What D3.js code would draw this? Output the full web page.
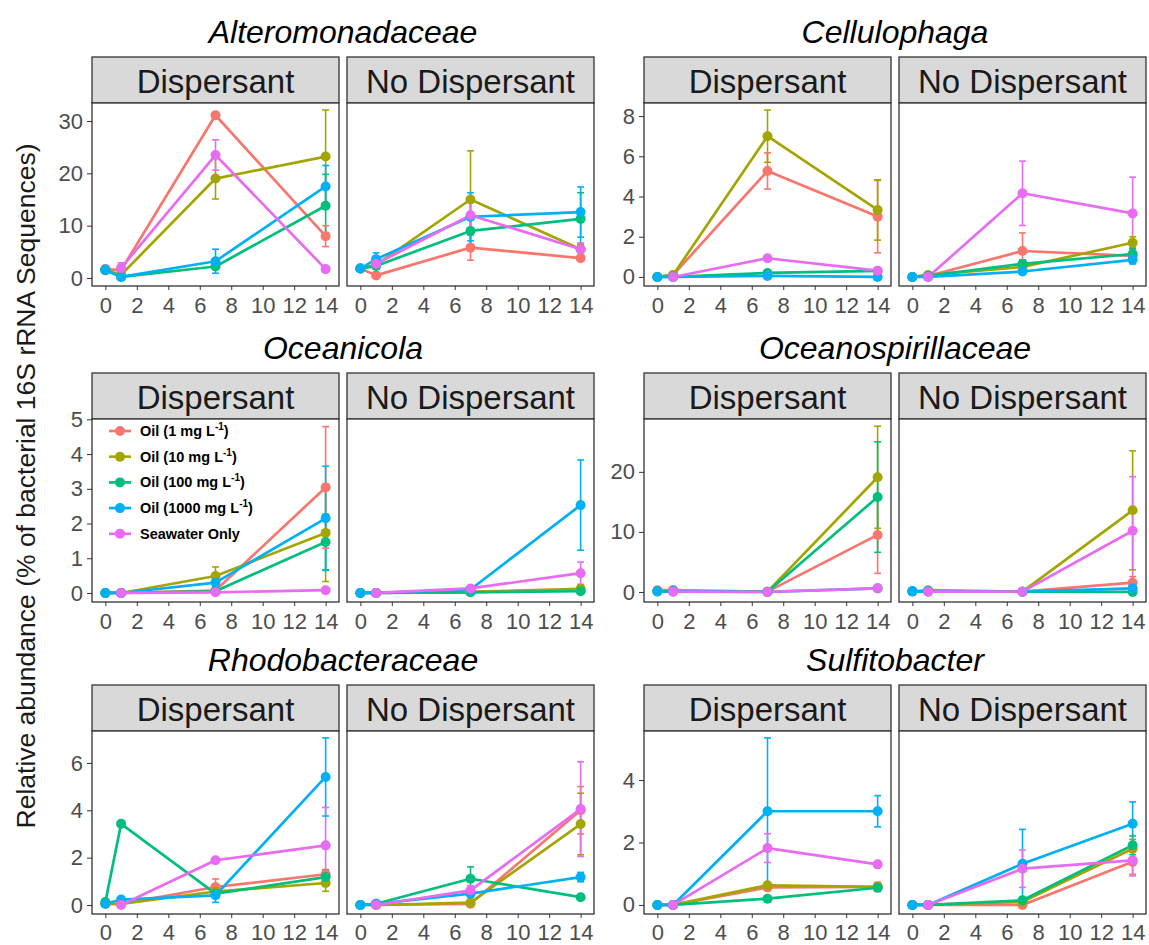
<!DOCTYPE html>
<html>
<head>
<meta charset="utf-8">
<script src="https://cdn.jsdelivr.net/npm/d3@7"></script>
<style>
  body { margin: 0; background: #fff; }
  svg { font-family: "Liberation Sans", Arial, sans-serif; }
  .axis text { font-size: 22px; fill: #4d4d4d; }
  .axis line { stroke: #333; stroke-width: 1; }
  .axis .domain { display: none; }
  .strip-text { font-size: 33px; fill: #1a1a1a; }
  .family-title { font-size: 32px; font-style: italic; fill: #000; }
  .y-title { font-size: 26.5px; fill: #1a1a1a; }
  .legend-text { font-size: 14.5px; font-weight: bold; fill: #000; }
</style>
</head>
<body>
<div id="chart"></div>
<script>
// ---- data ----
const days = [0, 1, 7, 14];
const treatments = ['Oil (1 mg L-1)', 'Oil (10 mg L-1)', 'Oil (100 mg L-1)', 'Oil (1000 mg L-1)', 'Seawater Only'];
const colours = ['#F8766D', '#A3A500', '#00BF7D', '#00B0F6', '#E76BF3'];
const facets = ['Dispersant', 'No Dispersant'];
const families = ['Alteromonadaceae', 'Cellulophaga', 'Oceanicola', 'Oceanospirillaceae', 'Rhodobacteraceae', 'Sulfitobacter'];
const xTicks = [0, 2, 4, 6, 8, 10, 12, 14];
const xLimits = [-0.85, 14.85];
const yTicks = [[0, 10, 20, 30], [0, 2, 4, 6, 8], [0, 1, 2, 3, 4, 5], [0, 10, 20], [0, 2, 4, 6], [0, 2, 4]];
const yLimits = [[-1.53, 33.44], [-0.45, 8.65], [-0.26, 5.01], [-1.67, 28.8], [-0.38, 7.35], [-0.29, 5.57]];

// means / standard errors: [facet][treatment][day]
const alteroMean = [
  [[1.7, 1.5, 31.1, 8.0], [1.5, 0.6, 19.0, 23.2], [1.5, 0.2, 2.2, 13.8], [1.6, 0.2, 3.2, 17.5], [null, 1.9, 23.5, 1.7]],
  [[1.8, 0.5, 5.8, 3.8], [1.8, 2.5, 15.0, 5.5], [1.8, 2.3, 9.0, 11.3], [1.8, 3.6, 11.7, 12.6], [null, 2.7, 12.0, 5.5]]
];
const alteroErr = [
  [[0.3, 0.5, 0.4, 2.0], [0.3, 0.2, 3.9, 8.9], [0.3, 0.1, 0.5, 6.0], [0.3, 0.1, 2.3, 4.0], [null, 1.0, 2.9, 0.2]],
  [[0.2, 0.2, 2.4, 0.5], [0.2, 0.5, 9.3, 1.0], [0.2, 0.5, 3.5, 5.0], [0.2, 1.2, 4.6, 4.8], [null, 0.5, 2.5, 1.2]]
];
const celluMean = [
  [[0, 0.1, 5.27, 3.0], [0, 0.1, 7.0, 3.33], [0, 0, 0.2, 0.3], [0, 0, 0.05, 0], [null, 0, 0.93, 0.31]],
  [[0, 0.05, 1.29, 1.05], [0, 0.1, 0.5, 1.7], [0, 0.05, 0.65, 1.14], [0, 0, 0.27, 0.85], [null, 0, 4.16, 3.16]]
];
const celluErr = [
  [[0, 0, 0.9, 1.8], [0, 0, 1.3, 1.5], [0, 0, 0.1, 0.1], [0, 0, 0.05, 0.05], [null, 0, 0.1, 0.15]],
  [[0, 0, 0.9, 0.2], [0, 0, 0.2, 0.3], [0, 0, 0.2, 0.3], [0, 0, 0.1, 0.2], [null, 0, 1.6, 1.8]]
];
const oceanicolaMean = [
  [[0, 0, 0.07, 3.04], [0, 0, 0.49, 1.73], [0, 0, 0.05, 1.47], [0, 0, 0.3, 2.15], [null, 0, 0.02, 0.08]],
  [[0, 0, 0.03, 0.08], [0, 0, 0.03, 0.12], [0, 0, 0.02, 0.05], [0, 0, 0.1, 2.53], [null, 0, 0.13, 0.57]]
];
const oceanicolaErr = [
  [[0, 0, 0.05, 1.75], [0, 0, 0.26, 1.4], [0, 0, 0.03, 0.8], [0, 0, 0.12, 1.5], [null, 0, 0.02, 0.03]],
  [[0, 0, 0.02, 0.05], [0, 0, 0.02, 0.08], [0, 0, 0.02, 0.04], [0, 0, 0.05, 1.3], [null, 0, 0.05, 0.32]]
];
const oceanospMean = [
  [[0.3, 0.33, 0.05, 9.5], [0.1, 0.1, 0.05, 19.1], [0.1, 0.1, 0.05, 15.8], [0.1, 0.1, 0, 0.6], [null, 0.05, 0, 0.6]],
  [[0.1, 0.1, 0.05, 1.55], [0.1, 0.3, 0.05, 13.6], [0.1, 0.1, 0.05, 0], [0.1, 0.1, 0.05, 0.6], [null, 0.05, 0.05, 10.2]]
];
const oceanospErr = [
  [[0.1, 0.1, 0.05, 6.4], [0, 0, 0, 8.5], [0, 0, 0, 9.2], [0, 0, 0, 0.3], [null, 0, 0, 0.3]],
  [[0, 0, 0, 1.0], [0, 0.1, 0, 9.9], [0, 0, 0, 0.2], [0, 0, 0, 0.3], [null, 0, 0, 9.0]]
];
const rhodoMean = [
  [[0.05, 0.05, 0.76, 1.3], [0.05, 0.05, 0.57, 0.93], [0.13, 3.43, 0.48, 1.18], [0.05, 0.23, 0.41, 5.41], [null, 0, 1.89, 2.52]],
  [[0, 0, 0.05, 4.0], [0, 0, 0.1, 3.42], [0, 0.05, 1.11, 0.33], [0, 0.05, 0.48, 1.18], [null, 0, 0.62, 4.05]]
];
const rhodoErr = [
  [[0, 0, 0.34, 0.2], [0, 0, 0.1, 0.35], [0.05, 0.1, 0.1, 0.3], [0, 0.05, 0.3, 1.65], [null, 0, 0.1, 1.6]],
  [[0, 0, 0.05, 1.0], [0, 0, 0.05, 1.3], [0, 0, 0.5, 0.1], [0, 0, 0.15, 0.2], [null, 0, 0.2, 2.0]]
];
const sulfiMean = [
  [[0, 0, 0.56, 0.58], [0, 0, 0.63, 0.58], [0, 0, 0.2, 0.55], [0, 0, 3.0, 3.0], [null, 0, 1.82, 1.3]],
  [[0, 0, 0, 1.38], [0, 0, 0.1, 1.8], [0, 0, 0.15, 1.91], [0, 0, 1.32, 2.6], [null, 0, 1.16, 1.43]]
];
const sulfiErr = [
  [[0, 0, 0.05, 0.15], [0, 0, 0.05, 0.1], [0, 0, 0.05, 0.1], [0, 0, 2.35, 0.5], [null, 0, 0.46, 0.05]],
  [[0, 0, 0.02, 0.4], [0, 0, 0.05, 0.3], [0, 0, 0.1, 0.3], [0, 0, 1.1, 0.7], [null, 0, 0.6, 0.5]]
];
const familyMeans = [alteroMean, celluMean, oceanicolaMean, oceanospMean, rhodoMean, sulfiMean];
const familyErrs = [alteroErr, celluErr, oceanicolaErr, oceanospErr, rhodoErr, sulfiErr];

// ---- layout ----
const width = 1149, height = 945;
const colLeft = [92, 644];
const rowTop = [57, 373, 685];

const svg = d3.select('#chart').append('svg')
    .attr('width', width)
    .attr('height', height);

class FacetPair {

  constructor(_config, _data) {
    this.config = {
      parent: _config.parent,
      left: _config.left,
      top: _config.top,
      tickPadding: _config.tickPadding || 7,
      panelWidth: 247,
      panelHeight: 183,
      stripHeight: 46,
      gap: 8
    };
    this.data = _data;
    this.initVis();
  }

  initVis() {
    let vis = this;
    const c = vis.config;

    vis.xScale = d3.scaleLinear().domain(xLimits).range([0, c.panelWidth]);
    vis.yScale = d3.scaleLinear().domain(vis.data.limits).range([c.panelHeight, 0]);

    vis.g = c.parent.append('g')
        .attr('transform', `translate(${c.left},${c.top})`);

    vis.g.append('text')
        .attr('class', 'family-title')
        .attr('x', c.panelWidth + c.gap / 2)
        .attr('y', -14)
        .attr('text-anchor', 'middle')
        .text(vis.data.title);

    vis.panels = facets.map((facet, fi) => {
      const p = vis.g.append('g')
          .attr('transform', `translate(${fi * (c.panelWidth + c.gap)},0)`);

      // strip
      p.append('rect')
          .attr('width', c.panelWidth)
          .attr('height', c.stripHeight)
          .attr('fill', '#d9d9d9')
          .attr('stroke', '#333')
          .attr('stroke-width', 1.3);
      p.append('text')
          .attr('class', 'strip-text')
          .attr('x', c.panelWidth / 2)
          .attr('y', 36)
          .attr('text-anchor', 'middle')
          .text(facet);

      const body = p.append('g')
          .attr('transform', `translate(0,${c.stripHeight})`);

      body.append('rect')
          .attr('width', c.panelWidth)
          .attr('height', c.panelHeight)
          .attr('fill', '#fff');

      body.append('g')
          .attr('class', 'axis x-axis')
          .attr('transform', `translate(0,${c.panelHeight})`)
          .call(d3.axisBottom(vis.xScale).tickValues(xTicks).tickSize(4).tickPadding(c.tickPadding));

      if (fi === 0) {
        body.append('g')
            .attr('class', 'axis y-axis')
            .call(d3.axisLeft(vis.yScale)
                .tickValues(vis.data.ticks)
                .tickFormat(d3.format('d'))
                .tickSize(5)
                .tickPadding(4));
      }

      return body;
    });

    vis.renderVis();
  }

  renderVis() {
    let vis = this;
    const c = vis.config;

    vis.panels.forEach((body, fi) => {
      const means = vis.data.means[fi];
      const errs = vis.data.errs[fi];
      const series = treatments.map((t, ti) => days.map((d, di) => ({
        day: d,
        value: means[ti][di],
        err: errs[ti][di],
        colour: colours[ti]
      })));

      const line = d3.line()
          .defined(d => d.value !== null)
          .x(d => vis.xScale(d.day))
          .y(d => vis.yScale(d.value));

      const marks = body.append('g');

      marks.selectAll('.series-line')
          .data(series)
          .join('path')
          .attr('class', 'series-line')
          .attr('d', line)
          .attr('fill', 'none')
          .attr('stroke', (d, i) => colours[i])
          .attr('stroke-width', 2.7)
          .attr('stroke-linejoin', 'round');

      const pts = series.flat().filter(d => d.value !== null);
      const withErr = pts.filter(d => d.err > 0);
      const capHalf = 0.22;

      marks.selectAll('.err-v')
          .data(withErr)
          .join('line')
          .attr('class', 'err-v')
          .attr('x1', d => vis.xScale(d.day))
          .attr('x2', d => vis.xScale(d.day))
          .attr('y1', d => vis.yScale(d.value - d.err))
          .attr('y2', d => vis.yScale(d.value + d.err))
          .attr('stroke', d => d.colour)
          .attr('stroke-width', 1.6);

      [-1, 1].forEach(sign => {
        marks.selectAll(`.err-cap${sign}`)
            .data(withErr)
            .join('line')
            .attr('class', `err-cap${sign}`)
            .attr('x1', d => vis.xScale(d.day - capHalf))
            .attr('x2', d => vis.xScale(d.day + capHalf))
            .attr('y1', d => vis.yScale(d.value + sign * d.err))
            .attr('y2', d => vis.yScale(d.value + sign * d.err))
            .attr('stroke', d => d.colour)
            .attr('stroke-width', 1.6);
      });

      marks.selectAll('.point')
          .data(pts)
          .join('circle')
          .attr('class', 'point')
          .attr('cx', d => vis.xScale(d.day))
          .attr('cy', d => vis.yScale(d.value))
          .attr('r', 5)
          .attr('fill', d => d.colour);

      body.append('rect')
          .attr('width', c.panelWidth)
          .attr('height', c.panelHeight)
          .attr('fill', 'none')
          .attr('stroke', '#333')
          .attr('stroke-width', 1.3);
    });
  }
}

const charts = families.map((f, i) => new FacetPair({
  parent: svg,
  left: colLeft[i % 2],
  top: rowTop[Math.floor(i / 2)],
  tickPadding: i >= 4 ? 6 : 7
}, {
  title: f,
  means: familyMeans[i],
  errs: familyErrs[i],
  ticks: yTicks[i],
  limits: yLimits[i]
}));

// legend inside the Oceanicola / Dispersant panel
const legendHost = charts[2].panels[0];
const legend = legendHost.append('g')
    .attr('transform', 'translate(17,12)');

const item = legend.selectAll('.legend-item')
    .data(treatments)
    .join('g')
    .attr('class', 'legend-item')
    .attr('transform', (d, i) => `translate(0,${i * 25.7})`);

item.append('line')
    .attr('x1', 0).attr('x2', 22)
    .attr('stroke', (d, i) => colours[i])
    .attr('stroke-width', 2.7);
item.append('circle')
    .attr('cx', 11)
    .attr('r', 5)
    .attr('fill', (d, i) => colours[i]);

item.append('text')
    .attr('class', 'legend-text')
    .attr('x', 31)
    .attr('y', 5)
    .each(function(d) {
      const m = d.match(/^(.*L)(-1)(\))$/);
      const t = d3.select(this);
      if (m) {
        t.append('tspan').text(m[1]);
        t.append('tspan').attr('dy', -6).attr('font-size', '10px').text(m[2]);
        t.append('tspan').attr('dy', 6).text(m[3]);
      } else {
        t.text(d);
      }
    });

// shared y axis title
svg.append('text')
    .attr('class', 'y-title')
    .attr('transform', 'translate(35,486) rotate(-90)')
    .attr('text-anchor', 'middle')
    .text('Relative abundance (% of bacterial 16S rRNA Sequences)');
</script>
</body>
</html>
